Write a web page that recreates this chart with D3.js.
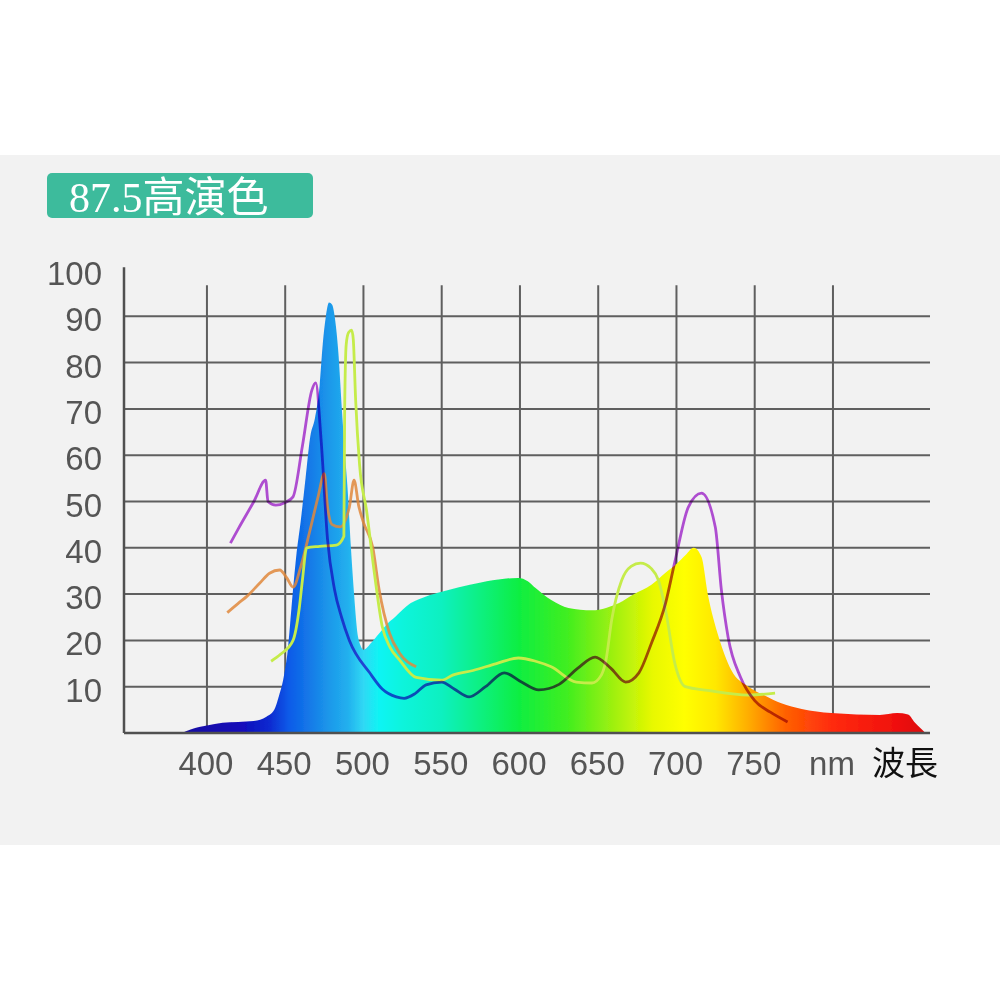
<!DOCTYPE html>
<html lang="zh-Hant">
<head>
<meta charset="UTF-8">
<title>87.5高演色</title>
<script src="https://d3js.org/d3.v7.min.js"></script>
<style>
  body { margin: 0; background: #fff; }
  svg { display: block; }
</style>
</head>
<body>
<script>
// 光譜 (填色)
var specWl  = [384,390,400,410,420,430,438,443,446,449,452,454,457,460,463,466,469,472,474,476,478,480,482,484,486,488,490,492,494,496,498,500,505,510,515,520,530,540,550,561,575,590,599,605,610,620,631,646,655,663,673,684,693,700,706,711,716,720,727,735,746,757,767,780,799,815,830,841,848,852,856,859];
var specVal = [0,0.8,1.6,2.2,2.4,2.6,3.5,5,8,12,19,27,38,46,55,64,68,75,84,90,93,92.5,89,82,71,61,52,40,30,22,19,18,19.5,21.5,23.5,25,28,29.5,30.5,31.5,32.5,33.3,33.5,32.8,31.3,28.7,27,26.5,27,28,30,32,34.6,36.5,38.5,40,38,30,20.7,13.6,10,8,6.4,5.2,4.3,4,3.9,4.3,4,2.4,1,0];

// 紫色曲線
var purpleWl  = [415,420,430,437.5,439,444,450,455,461,467,469.5,473,477,481.5,486,491,504,512,521,526,533,540,550,558,567.5,578,590,601,612,625,637,648,658,667.5,676,684,693,699,707.6,716,724.8,728.7,733,741,750,760,771];
var purpleVal = [41,44.1,50,54.6,50,49.2,49.8,51,62,74,75.6,63,42,31,25,20,13,9.5,7.8,7.5,8.5,10.4,11,9.5,7.8,10,13,11,9.3,10.5,14,16.4,14,11,13,19.4,28,37,48.8,51.8,44.5,30.9,20.7,12,7,4.5,2.4];

// 橙色曲線
var orangeWl  = [413,420,425.5,433.8,440,446.5,451,455,460,466,471,475,477,480,485,491,494,497,500,506,510,516.6,523,533.7];
var orangeVal = [26,28,29.5,32.4,34.5,35.2,33.5,31.5,36,44,51,56,49,45,44.5,48.8,54.6,49,45.5,40,31,21.6,17.3,14.3];

// 黃綠色曲線
var limeWl  = [441,447,455,459,461,463.7,472,482.8,487.5,488,489,490.5,492.5,493.5,495,497.5,502,507,512,517,523,533.7,550,557,570,585,599,610,620,636,646,652,655,658.6,665,671,677,684,688.5,693,699,705.7,720,746,763];
var limeVal = [15.5,17,20,27,33,40,40.3,40.6,42.5,70,84,86.5,87,85,72,58,48,34.5,23,18.5,15.8,12,11.4,12.5,13.5,15,16.2,15.5,14.3,11,10.8,12.5,15.8,24.4,33,36,36.7,35.5,33,26.6,15,10,9.2,8.2,8.6];

// 刻度
var xTicks = [400,450,500,550,600,650,700,750,800];
var xTickLabels = ["400","450","500","550","600","650","700","750","nm"];
var yTicks = [10,20,30,40,50,60,70,80,90,100];

// 漸層顏色 (波長 -> 顏色)
var gradWl    = [380,420,440,452,465,478,490,500,510,525,550,575,600,630,660,685,705,725,745,770,800,840,862];
var gradColor = ["#1a0aa0","#1408b8","#0a2ad0","#0a5ae8","#1478e8","#1c98ea","#22b0ee","#30d8f4","#10f4f4","#10f4dc","#10f0c0","#10f080","#10ee40","#40ee20","#a0f010","#e8f800","#ffff00","#ffe800","#ffb000","#ff6000","#ff2a10","#f01010","#d80808"];

var width = 1000, height = 1000;
var svg = d3.select('body').append('svg').attr('width', width).attr('height', height);

// 背景
svg.append('rect').attr('x', 0).attr('y', 0).attr('width', width).attr('height', height).attr('fill', '#ffffff');
svg.append('rect').attr('x', 0).attr('y', 155).attr('width', width).attr('height', 690).attr('fill', '#f2f2f2');

// 標籤
svg.append('rect').attr('x', 47).attr('y', 173).attr('width', 266).attr('height', 45)
   .attr('rx', 5).attr('fill', '#3dbb9c');
svg.append('text').attr('x', 69).attr('y', 212)
   .attr('fill', '#ffffff').attr('font-size', '42px')
   .attr('font-family', '"Liberation Serif", "DejaVu Serif", "Noto Sans CJK TC", serif')
   .text('87.5高演色');

var x = d3.scaleLinear().domain([347, 862]).range([124, 930]);
var y = d3.scaleLinear().domain([0, 100]).range([733, 270]);

// 漸層
var defs = svg.append('defs');
var grad = defs.append('linearGradient').attr('id', 'spec')
   .attr('gradientUnits', 'userSpaceOnUse')
   .attr('x1', x(gradWl[0])).attr('x2', x(gradWl[gradWl.length - 1]))
   .attr('y1', 0).attr('y2', 0);
var g0 = gradWl[0], g1 = gradWl[gradWl.length - 1];
grad.selectAll('stop').data(gradWl).enter().append('stop')
   .attr('offset', function(d){ return (d - g0) / (g1 - g0); })
   .attr('stop-color', function(d, i){ return gradColor[i]; });
defs.append('filter').attr('id', 'soft')
   .append('feGaussianBlur').attr('stdDeviation', 0.7);

// 格線
var grid = svg.append('g').attr('stroke', '#5f5f5f').attr('stroke-width', 2);
grid.selectAll('line.v').data(xTicks).enter().append('line')
   .attr('x1', function(d){ return x(d); }).attr('x2', function(d){ return x(d); })
   .attr('y1', y(96.7)).attr('y2', y(0));
grid.selectAll('line.h').data(yTicks.filter(function(d){ return d < 100; })).enter().append('line')
   .attr('x1', x(347)).attr('x2', x(862))
   .attr('y1', function(d){ return y(d); }).attr('y2', function(d){ return y(d); });

// 光譜面積
var area = d3.area()
   .x(function(d){ return x(d[0]); })
   .y0(y(0))
   .y1(function(d){ return y(d[1]); })
   .curve(d3.curveMonotoneX);
svg.append('path')
   .datum(d3.zip(specWl, specVal))
   .attr('d', area)
   .attr('fill', 'url(#spec)')
   .attr('filter', 'url(#soft)');

// 曲線
var line = d3.line()
   .x(function(d){ return x(d[0]); })
   .y(function(d){ return y(d[1]); })
   .curve(d3.curveMonotoneX);
svg.append('path').datum(d3.zip(orangeWl, orangeVal)).attr('d', line)
   .attr('fill', 'none').attr('stroke', '#e0883c').attr('stroke-width', 2.8).attr('opacity', 0.85);
svg.append('path').datum(d3.zip(limeWl, limeVal)).attr('d', line)
   .attr('fill', 'none').attr('stroke', '#c5ec4a').attr('stroke-width', 2.8);
svg.append('path').datum(d3.zip(purpleWl, purpleVal)).attr('d', line)
   .attr('fill', 'none').attr('stroke', '#b851dc').attr('stroke-width', 2.8)
   .style('mix-blend-mode', 'multiply');

// 軸線
svg.append('line').attr('x1', x(347)).attr('x2', x(347)).attr('y1', y(100.6)).attr('y2', y(0))
   .attr('stroke', '#505050').attr('stroke-width', 2.5);
svg.append('line').attr('x1', x(347)).attr('x2', x(862)).attr('y1', y(0)).attr('y2', y(0))
   .attr('stroke', '#505050').attr('stroke-width', 2.5);

// 刻度文字
var font = '"Liberation Sans", Arial, sans-serif';
svg.selectAll('text.yl').data(yTicks).enter().append('text')
   .attr('class', 'yl')
   .attr('x', 102).attr('y', function(d){ return y(d) + 15; })
   .attr('text-anchor', 'end').attr('font-size', '33px').attr('font-family', font)
   .attr('fill', '#555').text(function(d){ return d; });
svg.selectAll('text.xl').data(xTicks).enter().append('text')
   .attr('class', 'xl')
   .attr('x', function(d){ return x(d) - 1; }).attr('y', 775)
   .attr('text-anchor', 'middle').attr('font-size', '33px').attr('font-family', font)
   .attr('fill', '#555').text(function(d, i){ return xTickLabels[i]; });
svg.append('text').attr('x', 905).attr('y', 775).attr('text-anchor', 'middle')
   .attr('font-size', '33px').attr('font-family', '"Noto Sans CJK TC", sans-serif')
   .attr('fill', '#111').text('波長');
</script>
</body>
</html>
